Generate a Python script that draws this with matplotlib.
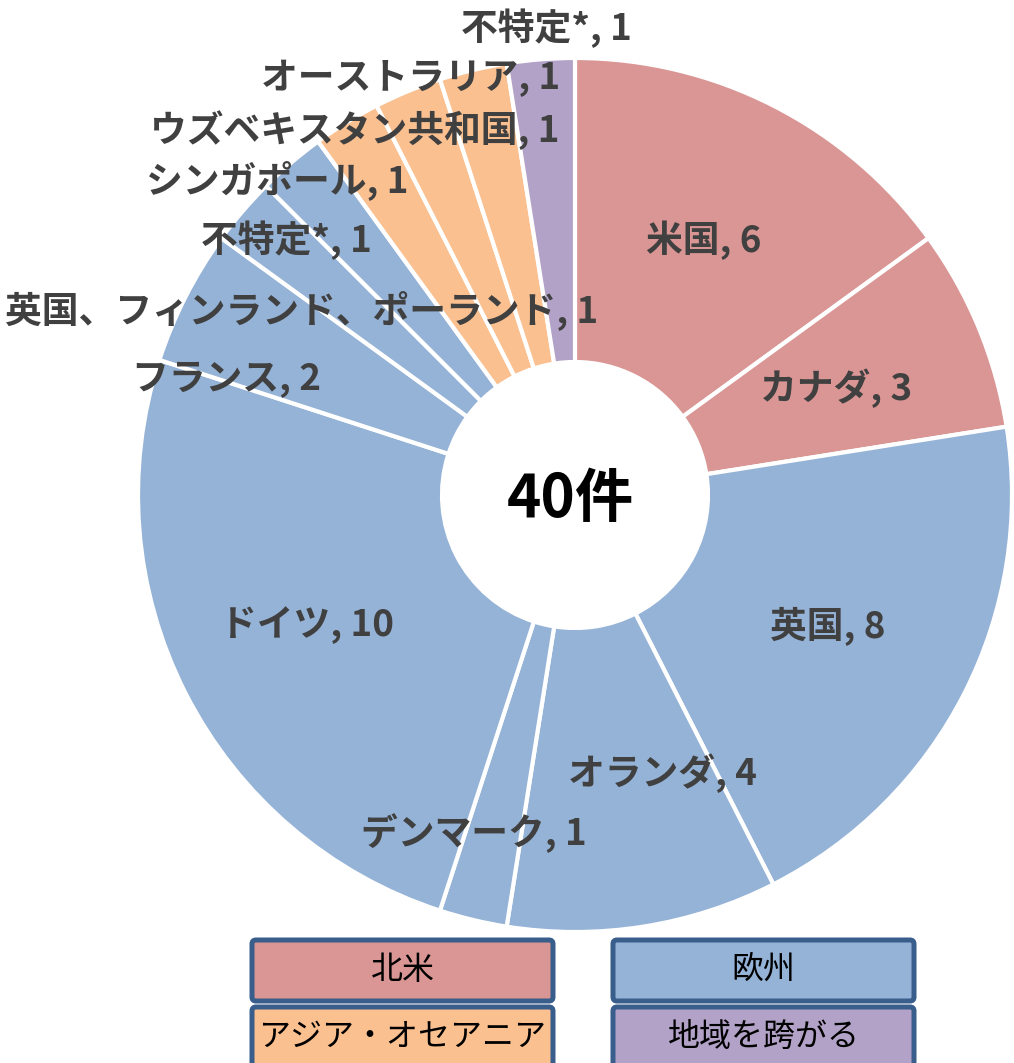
import matplotlib
matplotlib.use("Agg")
import matplotlib.pyplot as plt
from matplotlib.patches import FancyBboxPatch

plt.rcParams['font.family'] = ['Noto Sans CJK JP', 'DejaVu Sans']

# ---- data ----
countries = ["米国", "カナダ", "英国", "オランダ", "デンマーク", "ドイツ", "フランス",
             "英国、フィンランド、ポーランド", "不特定*", "シンガポール",
             "ウズベキスタン共和国", "オーストラリア", "不特定*"]
counts = [6, 3, 8, 4, 1, 10, 2, 1, 1, 1, 1, 1, 1]
regions = ["北米", "北米", "欧州", "欧州", "欧州", "欧州", "欧州",
           "欧州", "欧州", "アジア・オセアニア", "アジア・オセアニア",
           "アジア・オセアニア", "地域を跨がる"]
region_names = ["北米", "欧州", "アジア・オセアニア", "地域を跨がる"]
region_colors = {"北米": "#d99694", "欧州": "#95b3d7",
                 "アジア・オセアニア": "#fac090", "地域を跨がる": "#b3a2c7"}
total_label = f"{sum(counts)}件"

# ---- layout (pixel coordinates, y measured from top) ----
W, H = 1014, 1063
center_px = (575, 495)
r_out, r_in = 437, 133
label_pos_px = [(704, 240), (836, 388), (828, 627), (662, 773), (474, 833),
                (307, 625), (226, 380), (302, 310), (286, 240), (277, 180),
                (355, 130), (411, 78), (546, 28)]
legend_boxes_px = [(252, 940, 301, 61), (613, 940, 301, 61),
                   (252, 1007, 301, 70), (613, 1007, 301, 70)]

fig = plt.figure(figsize=(W / 100, H / 100), dpi=100)
ax = fig.add_axes([0, 0, 1, 1])

def Y(py):
    return H - py

colors = [region_colors[r] for r in regions]
ax.pie(counts, colors=colors, startangle=90, counterclock=False,
       radius=r_out, center=(center_px[0], Y(center_px[1])),
       wedgeprops=dict(width=r_out - r_in, edgecolor='white', linewidth=3),
       frame=True)
ax.set_xlim(0, W)
ax.set_ylim(0, H)
ax.set_aspect('auto')
ax.axis('off')

for name, c, (px, py) in zip(countries, counts, label_pos_px):
    ax.text(px, Y(py), f"{name}, {c}", ha='center', va='center',
            fontsize=26.5, fontweight='bold', color='#404040')

ax.text(center_px[0] - 5, Y(center_px[1] + 5), total_label, ha='center', va='center',
        fontsize=42, fontweight='bold', color='black')

for name, (x, y, w, h) in zip(region_names, legend_boxes_px):
    box = FancyBboxPatch((x, Y(y + h)), w, h,
                         boxstyle="round,pad=0,rounding_size=4",
                         facecolor=region_colors[name], edgecolor='#3a5e8c',
                         linewidth=3.6, clip_on=False)
    ax.add_patch(box)
    ax.text(x + w / 2, Y(y + 30), name, ha='center', va='center',
            fontsize=23, color='black')

fig.savefig("out.png", dpi=100)
